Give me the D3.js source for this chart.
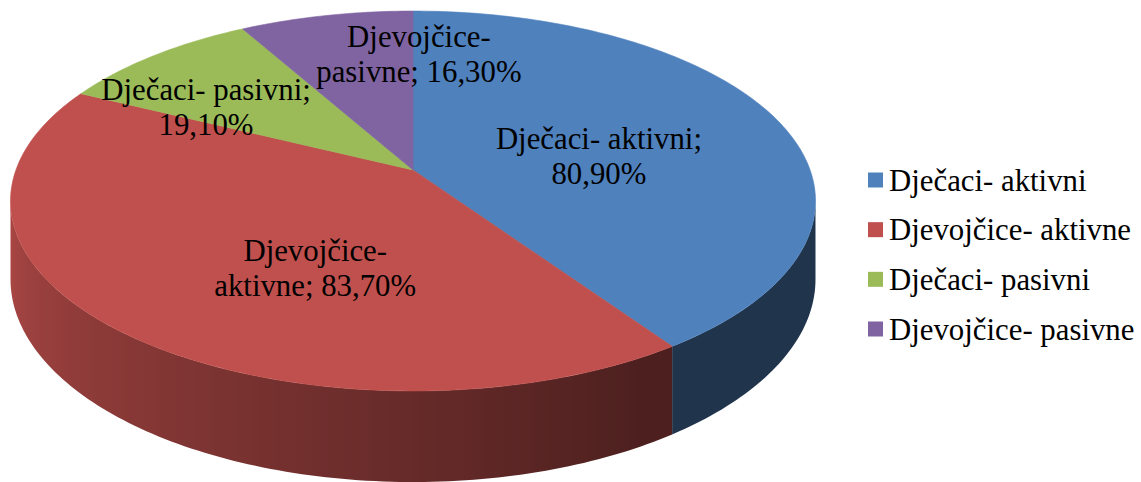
<!DOCTYPE html>
<html>
<head>
<meta charset="utf-8">
<script src="https://cdn.jsdelivr.net/npm/d3@7"></script>
<style>
  html, body { margin: 0; padding: 0; background: #ffffff; }
  svg { display: block; }
</style>
</head>
<body>
<svg id="chart" width="1141" height="482"></svg>
<script>
// ---- data ----
const categories = ["Dječaci- aktivni", "Djevojčice- aktivne", "Dječaci- pasivni", "Djevojčice- pasivne"];
const values = [80.9, 83.7, 19.1, 16.3];
const valueLabels = ["80,90%", "83,70%", "19,10%", "16,30%"];
const colors = ["#4f81bd", "#c0504d", "#9bbb59", "#8064a2"];
// where each data-label text is wrapped (Excel-style wrapping)
const labelBreaks = ["; ", "- ", "; ", "- "];
// label placement on the pie surface: angle (deg, clockwise from back) and radius fraction
const labelAngles = [87.7, 202.8, 298.8, 1.5];
const labelRadii = [0.47, 0.58, 0.624, 0.629];

// ---- 3D projection of the tilted disc ----
const W = 1141, H = 482;
const cx = 413, cy = 170;          // projected pie centre
const B = 397.1, A = 184.9;        // horizontal / depth radii
const k = 0.1632;                  // perspective factor
const D = 76.2;                    // thickness
function proj(theta, r, drop) {
  const u = r * Math.sin(theta), v = r * Math.cos(theta);
  const w = 1 + k * v;
  return [cx + B * u / w, cy - A * v / w + (drop ? D / w : 0)];
}

const svg = d3.select("#chart");
svg.append("rect").attr("width", W).attr("height", H).attr("fill", "#ffffff");
const defs = svg.append("defs");

const pie = d3.pie().sort(null).value(d => d.value);
const arcs = pie(values.map((v, i) => ({ value: v, i })));

function shadeFactor(theta) {
  const deg = theta * 180 / Math.PI;
  return Math.max(0.4, Math.min(0.88, 0.385 + (deg - 147) * 0.00444));
}
function shade(c, f) {
  const col = d3.rgb(c);
  return d3.rgb(col.r * f, col.g * f, col.b * f).formatHex();
}

// visible range of the outer wall (silhouette extremes)
const visLo = Math.acos(-k), visHi = 2 * Math.PI - Math.acos(-k);
const line = d3.line();
const wallG = svg.append("g");
arcs.forEach(a => {
  const t0 = Math.max(a.startAngle, visLo), t1 = Math.min(a.endAngle, visHi);
  if (t1 <= t0) return;
  const n = Math.max(2, Math.ceil((t1 - t0) / (Math.PI / 180)));
  const ts = d3.range(n + 1).map(j => t0 + (t1 - t0) * j / n);
  const topPts = ts.map(t => proj(t, 1, false));
  const botPts = ts.map(t => proj(t, 1, true)).reverse();
  const xs = topPts.map(p => p[0]);
  const xMin = d3.min(xs), xMax = d3.max(xs);
  const id = "wall" + a.data.i;
  const grad = defs.append("linearGradient").attr("id", id)
    .attr("gradientUnits", "userSpaceOnUse")
    .attr("x1", xMin).attr("x2", xMax).attr("y1", 0).attr("y2", 0);
  const stops = ts.map((t, j) => ({ o: (xs[j] - xMin) / (xMax - xMin || 1), c: shade(colors[a.data.i], shadeFactor(t)) }))
    .sort((p, q) => p.o - q.o);
  grad.selectAll("stop").data(stops).join("stop")
    .attr("offset", d => d.o).attr("stop-color", d => d.c);
  wallG.append("path")
    .attr("d", line(topPts.concat(botPts)) + "Z")
    .attr("fill", `url(#${id})`);
});

// top faces
function topPath(a) {
  const pts = [proj(0, 0, false)];
  const n = Math.max(2, Math.ceil((a.endAngle - a.startAngle) / (Math.PI / 180)));
  for (let j = 0; j <= n; j++) {
    const t = a.startAngle + (a.endAngle - a.startAngle) * j / n;
    pts.push(proj(t, 1, false));
  }
  return line(pts) + "Z";
}
svg.append("g").selectAll("path").data(arcs).join("path")
  .attr("d", topPath)
  .attr("fill", d => colors[d.data.i])
  .attr("stroke", d => colors[d.data.i])
  .attr("stroke-width", 0.6)
  .attr("stroke-linejoin", "round");

// data labels
const fontFamily = "Liberation Serif";
const fontSize = 30.8;
const lineGap = 35;
const labelG = svg.append("g");
arcs.forEach(a => {
  const i = a.data.i;
  const full = categories[i] + "; " + valueLabels[i];
  const br = labelBreaks[i];
  const pos = full.indexOf(br);
  const lines = [full.slice(0, pos + br.length - 1), full.slice(pos + br.length)];
  const [lx, ly] = proj(labelAngles[i] * Math.PI / 180, labelRadii[i], false);
  lines.forEach((t, j) => {
    labelG.append("text")
      .attr("x", lx)
      .attr("y", ly + (j - (lines.length - 1) / 2) * lineGap)
      .attr("text-anchor", "middle")
      .attr("font-family", fontFamily)
      .attr("font-size", fontSize)
      .attr("fill", "#000000")
      .text(t);
  });
});

// legend
const legendY = d3.scalePoint().domain(categories).range([180, 329]);
const lg = svg.append("g");
const items = lg.selectAll("g").data(categories).join("g")
  .attr("transform", d => `translate(868,${legendY(d)})`);
items.append("rect")
  .attr("x", 0).attr("y", -7.5).attr("width", 15).attr("height", 15)
  .attr("fill", (d, i) => colors[i]);
items.append("text")
  .attr("x", 21).attr("y", 10.5)
  .attr("font-family", fontFamily)
  .attr("font-size", fontSize)
  .attr("fill", "#000000")
  .text(d => d);
</script>
</body>
</html>
